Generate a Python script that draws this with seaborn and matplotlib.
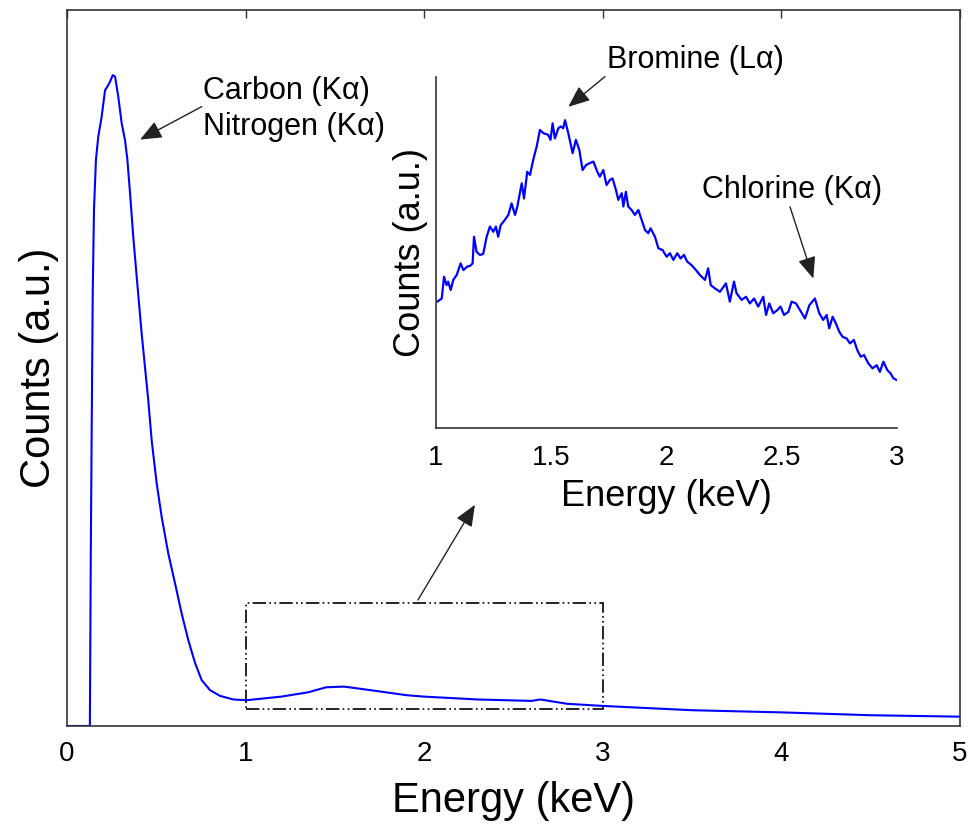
"""
plot.py - EDS spectrum with a zoomed inset of the 1-3 keV region.

Writes out.png (974 x 826 px).
"""

import matplotlib

matplotlib.use("Agg")

import matplotlib.pyplot as plt
import pandas as pd
import seaborn as sns
from matplotlib.patches import Rectangle

# ---------------------------------------------------------------------------
# DATA
# ---------------------------------------------------------------------------
main_energy = [0.0, 0.128, 0.133, 0.138, 0.144, 0.151, 0.162, 0.175, 0.194, 0.213,
               0.226, 0.241, 0.256, 0.269, 0.287, 0.306, 0.325, 0.338, 0.353, 0.371,
               0.390, 0.418, 0.455, 0.474, 0.502, 0.530, 0.567, 0.605, 0.642, 0.679,
               0.717, 0.754, 0.801, 0.857, 0.931, 1.006, 1.2, 1.35, 1.45, 1.55,
               1.7, 1.9, 2.0, 2.3, 2.6, 2.65, 2.8, 3.0, 3.5, 4.0, 4.5, 5.0]
main_counts = [0.0, 0.0, 0.236, 0.409, 0.605, 0.721, 0.791, 0.823, 0.851, 0.888,
               0.893, 0.900, 0.909, 0.907, 0.879, 0.842, 0.818, 0.791, 0.744, 0.683,
               0.628, 0.548, 0.455, 0.399, 0.339, 0.292, 0.241, 0.199, 0.157, 0.120,
               0.088, 0.064, 0.050, 0.042, 0.037, 0.036, 0.041, 0.047, 0.054, 0.055,
               0.050, 0.043, 0.041, 0.037, 0.035, 0.037, 0.031, 0.028, 0.022, 0.019,
               0.015, 0.013]

inset_energy = [1.006, 1.025, 1.035, 1.046, 1.053, 1.064, 1.075, 1.090, 1.107, 1.119,
                1.136, 1.148, 1.159, 1.165, 1.176, 1.191, 1.205, 1.220, 1.234, 1.249,
                1.260, 1.270, 1.281, 1.299, 1.314, 1.328, 1.343, 1.353, 1.372, 1.382,
                1.396, 1.408, 1.422, 1.437, 1.451, 1.466, 1.487, 1.497, 1.506, 1.516,
                1.531, 1.541, 1.552, 1.560, 1.574, 1.593, 1.607, 1.622, 1.636, 1.651,
                1.665, 1.683, 1.700, 1.711, 1.726, 1.740, 1.755, 1.766, 1.781, 1.791,
                1.806, 1.813, 1.824, 1.834, 1.849, 1.863, 1.878, 1.892, 1.907, 1.921,
                1.931, 1.950, 1.965, 1.983, 2.001, 2.015, 2.030, 2.047, 2.061, 2.076,
                2.090, 2.109, 2.128, 2.145, 2.167, 2.181, 2.192, 2.210, 2.232, 2.258,
                2.275, 2.293, 2.304, 2.326, 2.345, 2.362, 2.380, 2.398, 2.420, 2.432,
                2.446, 2.463, 2.481, 2.495, 2.510, 2.529, 2.543, 2.562, 2.579, 2.601,
                2.620, 2.644, 2.663, 2.680, 2.695, 2.706, 2.721, 2.735, 2.750, 2.764,
                2.782, 2.796, 2.813, 2.828, 2.843, 2.857, 2.876, 2.894, 2.912, 2.926,
                2.941, 2.958, 2.972, 2.984, 2.998]
inset_counts = [0.360, 0.369, 0.431, 0.407, 0.417, 0.393, 0.422, 0.436, 0.469, 0.450,
                0.460, 0.462, 0.469, 0.545, 0.502, 0.493, 0.496, 0.545, 0.574, 0.559,
                0.574, 0.545, 0.578, 0.593, 0.607, 0.640, 0.607, 0.631, 0.697, 0.654,
                0.730, 0.721, 0.764, 0.802, 0.849, 0.840, 0.835, 0.821, 0.868, 0.825,
                0.854, 0.859, 0.854, 0.877, 0.840, 0.783, 0.821, 0.792, 0.735, 0.749,
                0.754, 0.759, 0.730, 0.716, 0.735, 0.692, 0.707, 0.711, 0.678, 0.650,
                0.669, 0.631, 0.673, 0.631, 0.621, 0.607, 0.621, 0.593, 0.564, 0.555,
                0.569, 0.545, 0.512, 0.507, 0.488, 0.498, 0.479, 0.498, 0.483, 0.493,
                0.474, 0.464, 0.450, 0.436, 0.422, 0.455, 0.407, 0.398, 0.388, 0.412,
                0.360, 0.417, 0.384, 0.365, 0.374, 0.355, 0.369, 0.346, 0.374, 0.322,
                0.355, 0.327, 0.336, 0.346, 0.322, 0.331, 0.360, 0.355, 0.336, 0.312,
                0.350, 0.369, 0.327, 0.308, 0.322, 0.284, 0.317, 0.298, 0.274, 0.260,
                0.255, 0.241, 0.251, 0.222, 0.203, 0.208, 0.184, 0.170, 0.179, 0.160,
                0.189, 0.165, 0.156, 0.142, 0.137]

main_ticks = [0, 1, 2, 3, 4, 5]
inset_ticks = [1, 1.5, 2, 2.5, 3]
inset_tick_labels = ["1", "1.5", "2", "2.5", "3"]

# zoom box drawn on the main axes: energy range and counts range
box_energy = (1.0, 3.0)
box_counts = (0.024, 0.172)

LINE_BLUE = "#0000ff"
SPINE = "#333333"
ARROW = dict(arrowstyle="-|>,head_length=0.6,head_width=0.25", color="#222222",
             lw=1.0, mutation_scale=22, shrinkA=0, shrinkB=0)


def _style_spines(ax, sides):
    for side, sp in ax.spines.items():
        sp.set_visible(side in sides)
        sp.set_color(SPINE)
        sp.set_linewidth(1.2)


def _label_with_arrow(ax, text, tip, tail, text_xy, **kw):
    ax.annotate(text, xy=tip, xytext=text_xy, fontsize=22, ha="left",
                va="center", **kw)
    ax.annotate("", xy=tip, xytext=tail, arrowprops=ARROW)


def main():
    sns.set_style("white")
    plt.rcParams["font.family"] = ["Liberation Sans", "DejaVu Sans"]
    plt.rcParams["text.color"] = "black"
    plt.rcParams["axes.labelcolor"] = "black"
    plt.rcParams["xtick.labelcolor"] = "black"

    main_df = pd.DataFrame({"energy": main_energy, "counts": main_counts})
    inset_df = pd.DataFrame({"energy": inset_energy, "counts": inset_counts})

    fig = plt.figure(figsize=(9.74, 8.26), dpi=100)

    # ---- main spectrum ----
    ax = fig.add_axes([0.0688, 0.1211, 0.9168, 0.8668])
    sns.lineplot(data=main_df, x="energy", y="counts", ax=ax, color=LINE_BLUE,
                 lw=1.5, estimator=None, sort=False)
    ax.set_xlim(0, 5)
    ax.set_ylim(0, 1)
    ax.set_xticks(main_ticks)
    ax.set_yticks([])
    ax.tick_params(axis="x", direction="in", top=True, length=6, width=1.0,
                   color=SPINE, labelsize=20, pad=11)
    ax.set_xlabel("Energy (keV)", fontsize=30, labelpad=10)
    ax.set_ylabel("Counts (a.u.)", fontsize=30, labelpad=6)
    _style_spines(ax, ("left", "right", "top", "bottom"))

    x0, x1 = box_energy
    y0, y1 = box_counts
    ax.add_patch(Rectangle((x0, y0), x1 - x0, y1 - y0, fill=False,
                           edgecolor="black", lw=1.2, ls=(0, (8, 2, 1, 2, 1, 2))))

    _label_with_arrow(ax, "Carbon (K\u03b1)\nNitrogen (K\u03b1)", tip=(0.409, 0.819),
                      tail=(0.754, 0.865), text_xy=(0.763, 0.862), linespacing=1.25)
    ax.annotate("", xy=(2.284, 0.309), xytext=(1.965, 0.176), arrowprops=ARROW)

    # ---- inset, zoom of 1-3 keV ----
    ins = fig.add_axes([0.4476, 0.4818, 0.4733, 0.4250])
    sns.lineplot(data=inset_df, x="energy", y="counts", ax=ins, color=LINE_BLUE,
                 lw=1.6, estimator=None, sort=False)
    ins.set_xlim(1, 3)
    ins.set_ylim(0, 1)
    ins.set_xticks(inset_ticks)
    ins.set_xticklabels(inset_tick_labels)
    ins.set_yticks([])
    ins.tick_params(axis="x", direction="in", length=5, width=1.0, color=SPINE,
                    labelsize=20, pad=12)
    ins.set_xlabel("Energy (keV)", fontsize=26, labelpad=6)
    ins.set_ylabel("Counts (a.u.)", fontsize=26, labelpad=6)
    ins.patch.set_alpha(0)
    _style_spines(ins, ("left", "bottom"))

    _label_with_arrow(ins, "Bromine (L\u03b1)", tip=(1.574, 0.915), tail=(1.733, 1.001),
                      text_xy=(1.741, 1.048), annotation_clip=False)
    _label_with_arrow(ins, "Chlorine (K\u03b1)", tip=(2.637, 0.426), tail=(2.536, 0.630),
                      text_xy=(2.153, 0.678))

    fig.savefig("out.png", dpi=100)
    plt.close(fig)


if __name__ == "__main__":
    main()
